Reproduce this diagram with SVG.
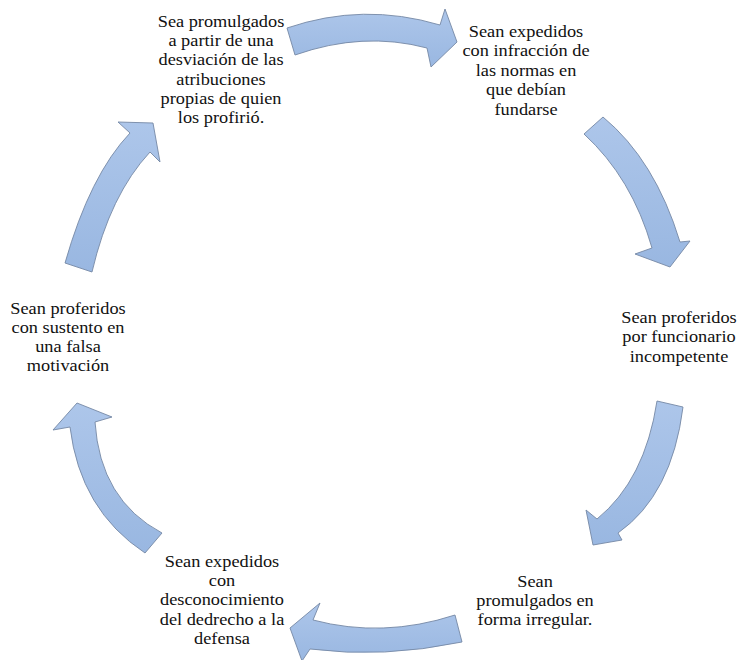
<svg xmlns="http://www.w3.org/2000/svg" width="739" height="660" viewBox="0 0 739 660">
<defs>
<linearGradient id="g" x1="0" y1="0" x2="0" y2="1">
<stop offset="0" stop-color="#adc6ea"/>
<stop offset="1" stop-color="#99b7e1"/>
</linearGradient>
<style>
.arr{fill:url(#g);stroke:#7588a5;stroke-width:0.9;stroke-linejoin:miter}
.t{font-family:"Liberation Serif",Tinos,"Times New Roman",Times,"Noto Serif","DejaVu Serif",FreeSerif,serif;font-size:16.5px;fill:#111;text-anchor:middle}
</style>
</defs>
<rect width="739" height="660" fill="#fff"/>
<g id="connectors">
<path class="arr" d="M287,28 Q363,2 440,25 L445,9 L457,42 L431,67 L427,48 Q363,31 295,55 Z"/>
<path class="arr" d="M603,117 Q655,160 680,242 L690,241 L670,267 L635,254 L652,248 Q632,178 584,134 Z"/>
<path class="arr" d="M683,407 Q672,495 618,533 L622,540 L593,545 L586,510 L597,519 Q645,480 657,401 Z"/>
<path class="arr" d="M455,615 Q383,638.5 313,620 L320,603 L290,628 L302,661 L310,649 Q383,658.5 462,642 Z"/>
<path class="arr" d="M70,427 L53,430 L77,403 L112,417 L95,422 Q100,500 162,533 L145,553 Q80,510 70,427 Z"/>
<path class="arr" d="M65,263 Q90,175 130,133 L118,122 L153,123 L160,162 L150,152 Q110,195 92,272 Z"/>
</g>
<g id="node1" transform="translate(221,0) scale(1.11,1)">
<text class="t" x="0" y="27">Sea promulgados</text>
<text class="t" x="0" y="46.2">a partir de una</text>
<text class="t" x="0" y="65.4">desviación de las</text>
<text class="t" x="0" y="84.6">atribuciones</text>
<text class="t" x="0" y="103.8">propias de quien</text>
<text class="t" x="0" y="123">los profirió.</text>
</g>
<g id="node2" transform="translate(526,0) scale(1.11,1)">
<text class="t" x="0" y="37">Sean expedidos</text>
<text class="t" x="0" y="56.4">con infracción de</text>
<text class="t" x="0" y="75.8">las normas en</text>
<text class="t" x="0" y="95.2">que debían</text>
<text class="t" x="0" y="114.6">fundarse</text>
</g>
<g id="node3" transform="translate(679,0) scale(1.11,1)">
<text class="t" x="0" y="323">Sean proferidos</text>
<text class="t" x="0" y="342.5">por funcionario</text>
<text class="t" x="0" y="362">incompetente</text>
</g>
<g id="node4" transform="translate(535,0) scale(1.11,1)">
<text class="t" x="0" y="587">Sean</text>
<text class="t" x="0" y="606">promulgados en</text>
<text class="t" x="0" y="625">forma irregular.</text>
</g>
<g id="node5" transform="translate(222,0) scale(1.11,1)">
<text class="t" x="0" y="567">Sean expedidos</text>
<text class="t" x="0" y="586.2">con</text>
<text class="t" x="0" y="605.4">desconocimiento</text>
<text class="t" x="0" y="624.6">del dedrecho a la</text>
<text class="t" x="0" y="643.8">defensa</text>
</g>
<g id="node6" transform="translate(68,0) scale(1.11,1)">
<text class="t" x="0" y="314">Sean proferidos</text>
<text class="t" x="0" y="333">con sustento en</text>
<text class="t" x="0" y="352">una falsa</text>
<text class="t" x="0" y="371">motivación</text>
</g>
</svg>
